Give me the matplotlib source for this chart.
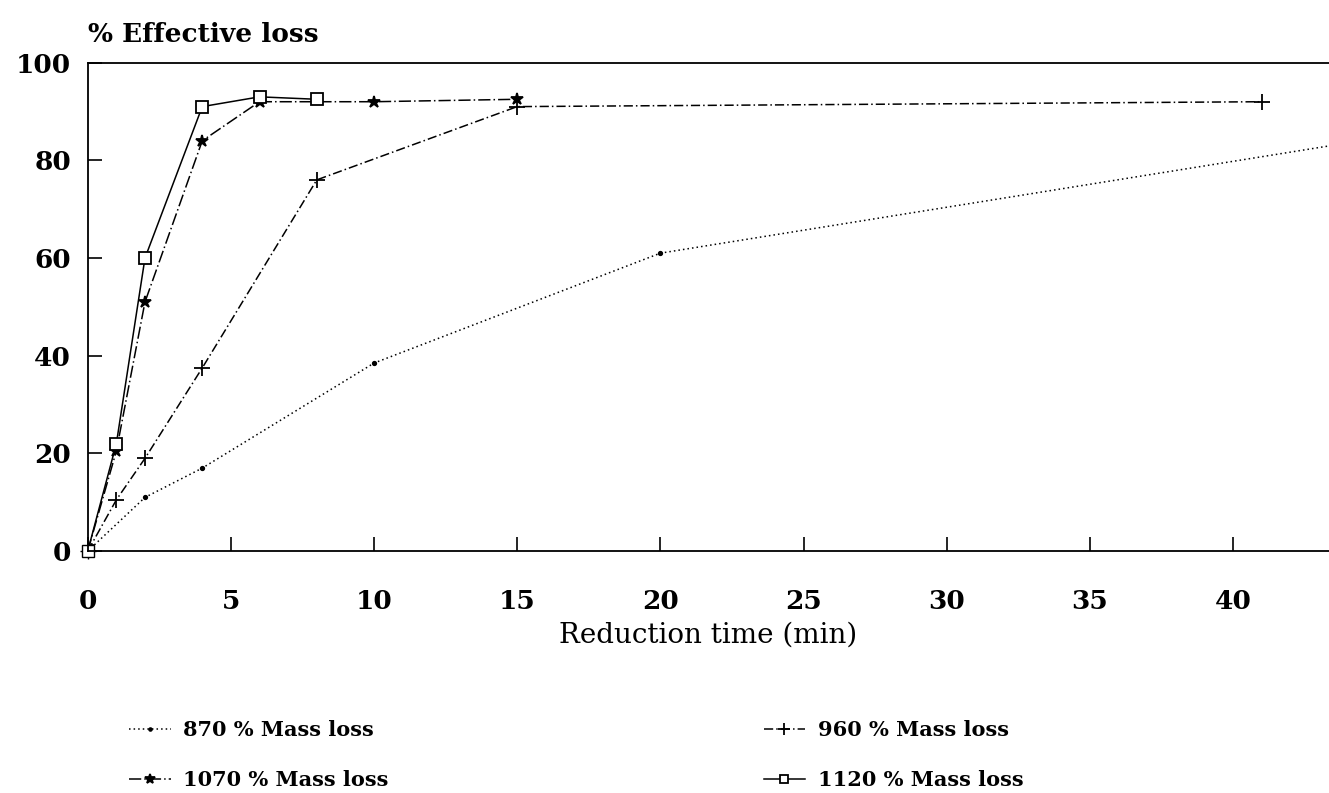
import matplotlib
matplotlib.use("Agg")
import matplotlib.pyplot as plt

# ── Data ─────────────────────────────────────────────────────────────
time_870 = [0, 2, 4, 10, 20, 45]
loss_870 = [0, 11, 17, 38.5, 61, 84.5]

time_960 = [0, 1, 2, 4, 8, 15, 41]
loss_960 = [0, 10.5, 19, 37.5, 76, 91, 92]

time_1070 = [0, 1, 2, 4, 6, 10, 15]
loss_1070 = [0, 20.5, 51, 84, 92, 92, 92.5]

time_1120 = [0, 1, 2, 4, 6, 8]
loss_1120 = [0, 22, 60, 91, 93, 92.5]

x_ticks = [0, 5, 10, 15, 20, 25, 30, 35, 40]
y_ticks = [0, 20, 40, 60, 80, 100]

plt.rcParams["font.family"] = ["DejaVu Serif"]

fig = plt.figure(figsize=(13.29, 7.93), dpi=100)
ax = fig.add_axes([0.066, 0.305, 0.934, 0.616])

series = [
    (time_870, loss_870, ".", (0, (1, 2)), 5, "870 % Mass loss"),
    (time_960, loss_960, "+", (0, (6, 2, 1, 2)), 11, "960 % Mass loss"),
    (time_1070, loss_1070, "*", (0, (8, 2, 1, 2)), 9, "1070 % Mass loss"),
    (time_1120, loss_1120, "s", "-", 8, "1120 % Mass loss"),
]
handles = {}
for t, v, mk, ls, ms, lab in series:
    (h,) = ax.plot(t, v, color="black", linestyle=ls, linewidth=1.1,
                   marker=mk, markersize=ms, markerfacecolor="white" if mk == "s" else "black",
                   markeredgewidth=1.3, label=lab)
    handles[lab] = h
    # the (0, 0) markers sit on the axes corner
    ax.plot(t[:1], v[:1], color="black", marker=mk, markersize=ms,
            markerfacecolor="white" if mk == "s" else "black", clip_on=False)

ax.set_xlim(0, 43.35)
ax.set_ylim(0, 100)
ax.set_xticks(x_ticks)
ax.set_yticks(y_ticks)
ax.tick_params(direction="in", length=10, width=1.2, labelsize=19, top=False, right=False)
ax.tick_params(axis="x", pad=27)
ax.tick_params(axis="y", pad=12)
for lbl in ax.get_xticklabels() + ax.get_yticklabels():
    lbl.set_fontweight("bold")
ax.spines["right"].set_visible(False)
for s in ["left", "top", "bottom"]:
    ax.spines[s].set_linewidth(1.3)

ax.set_xlabel("Reduction time (min)", fontsize=20, labelpad=6)
fig.text(0.066, 0.957, "% Effective loss", fontsize=19, fontweight="bold", va="center", ha="left")

order = ["870 % Mass loss", "1070 % Mass loss", "960 % Mass loss", "1120 % Mass loss"]
leg = fig.legend([handles[k] for k in order], order, ncol=2, loc="lower left",
                 bbox_to_anchor=(0.083, -0.02), frameon=False, fontsize=15,
                 handlelength=2.0, handletextpad=0.6, columnspacing=18.0,
                 labelspacing=1.45, markerscale=0.8)
for txt in leg.get_texts():
    txt.set_fontweight("bold")

fig.savefig("out.png", dpi=100)
